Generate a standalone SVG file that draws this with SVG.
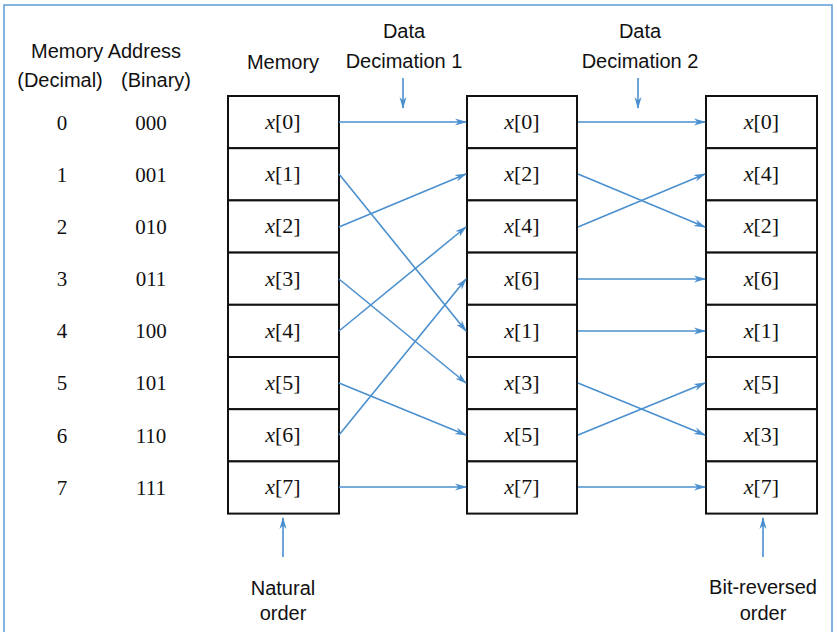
<svg xmlns="http://www.w3.org/2000/svg" width="837" height="632" viewBox="0 0 837 632">
<style>
.lbl{font-family:"Liberation Sans",Arial,sans-serif;font-size:20px;fill:#111;text-anchor:middle}
.num{font-family:"Liberation Serif","Times New Roman",serif;font-size:21px;fill:#111;text-anchor:middle}
.cx{font-family:"Liberation Serif","Times New Roman",serif;font-size:22px;fill:#111;text-anchor:middle}
.cell{fill:#fff;stroke:#111;stroke-width:2}
.conn{stroke:#4a8fce;stroke-width:1.6;fill:none;marker-end:url(#ah)}
</style>
<defs>
<marker id="ah" viewBox="0 0 12 8" refX="11" refY="4" markerWidth="12" markerHeight="8" markerUnits="userSpaceOnUse" orient="auto">
<path d="M0,0.5 L12,4 L0,7.5 L3.5,4 z" fill="#4a8fce"/>
</marker>
</defs>
<rect x="0" y="0" width="837" height="632" fill="#fff"/>
<rect x="4" y="5" width="828" height="640" fill="none" stroke="#5b9bd5" stroke-width="1.5"/>

<g id="headers">
<text class="lbl" x="106" y="58">Memory Address</text>
<text class="lbl" x="60" y="87">(Decimal)</text>
<text class="lbl" x="156" y="87">(Binary)</text>
<text class="lbl" x="283" y="69">Memory</text>
<text class="lbl" x="404" y="38">Data</text>
<text class="lbl" x="404" y="68">Decimation 1</text>
<text class="lbl" x="640" y="38">Data</text>
<text class="lbl" x="640" y="68">Decimation 2</text>
<text class="lbl" x="283" y="595">Natural</text>
<text class="lbl" x="283" y="620">order</text>
<text class="lbl" x="763" y="594">Bit-reversed</text>
<text class="lbl" x="763" y="620">order</text>
</g>

<g id="addresses">
<text class="num" x="62" y="130">0</text><text class="num" x="151" y="130">000</text>
<text class="num" x="62" y="182">1</text><text class="num" x="151" y="182">001</text>
<text class="num" x="62" y="234">2</text><text class="num" x="151" y="234">010</text>
<text class="num" x="62" y="286">3</text><text class="num" x="151" y="286">011</text>
<text class="num" x="62" y="338">4</text><text class="num" x="151" y="338">100</text>
<text class="num" x="62" y="390">5</text><text class="num" x="151" y="390">101</text>
<text class="num" x="62" y="443">6</text><text class="num" x="151" y="443">110</text>
<text class="num" x="62" y="495">7</text><text class="num" x="151" y="495">111</text>
</g>

<g id="memory">
<rect class="cell" x="228" y="96" width="111" height="52.2"/>
<rect class="cell" x="228" y="148.2" width="111" height="52.2"/>
<rect class="cell" x="228" y="200.4" width="111" height="52.2"/>
<rect class="cell" x="228" y="252.6" width="111" height="52.2"/>
<rect class="cell" x="228" y="304.8" width="111" height="52.2"/>
<rect class="cell" x="228" y="357" width="111" height="52.2"/>
<rect class="cell" x="228" y="409.2" width="111" height="52.2"/>
<rect class="cell" x="228" y="461.4" width="111" height="52.2"/>
<text class="cx" x="283" y="129"><tspan font-style="italic">x</tspan>[0]</text>
<text class="cx" x="283" y="181"><tspan font-style="italic">x</tspan>[1]</text>
<text class="cx" x="283" y="233"><tspan font-style="italic">x</tspan>[2]</text>
<text class="cx" x="283" y="286"><tspan font-style="italic">x</tspan>[3]</text>
<text class="cx" x="283" y="338"><tspan font-style="italic">x</tspan>[4]</text>
<text class="cx" x="283" y="390"><tspan font-style="italic">x</tspan>[5]</text>
<text class="cx" x="283" y="442"><tspan font-style="italic">x</tspan>[6]</text>
<text class="cx" x="283" y="494"><tspan font-style="italic">x</tspan>[7]</text>
</g>

<g id="stage1">
<rect class="cell" x="467" y="96" width="110" height="52.2"/>
<rect class="cell" x="467" y="148.2" width="110" height="52.2"/>
<rect class="cell" x="467" y="200.4" width="110" height="52.2"/>
<rect class="cell" x="467" y="252.6" width="110" height="52.2"/>
<rect class="cell" x="467" y="304.8" width="110" height="52.2"/>
<rect class="cell" x="467" y="357" width="110" height="52.2"/>
<rect class="cell" x="467" y="409.2" width="110" height="52.2"/>
<rect class="cell" x="467" y="461.4" width="110" height="52.2"/>
<text class="cx" x="522" y="129"><tspan font-style="italic">x</tspan>[0]</text>
<text class="cx" x="522" y="181"><tspan font-style="italic">x</tspan>[2]</text>
<text class="cx" x="522" y="233"><tspan font-style="italic">x</tspan>[4]</text>
<text class="cx" x="522" y="286"><tspan font-style="italic">x</tspan>[6]</text>
<text class="cx" x="522" y="338"><tspan font-style="italic">x</tspan>[1]</text>
<text class="cx" x="522" y="390"><tspan font-style="italic">x</tspan>[3]</text>
<text class="cx" x="522" y="442"><tspan font-style="italic">x</tspan>[5]</text>
<text class="cx" x="522" y="494"><tspan font-style="italic">x</tspan>[7]</text>
</g>

<g id="stage2">
<rect class="cell" x="706" y="96" width="111" height="52.2"/>
<rect class="cell" x="706" y="148.2" width="111" height="52.2"/>
<rect class="cell" x="706" y="200.4" width="111" height="52.2"/>
<rect class="cell" x="706" y="252.6" width="111" height="52.2"/>
<rect class="cell" x="706" y="304.8" width="111" height="52.2"/>
<rect class="cell" x="706" y="357" width="111" height="52.2"/>
<rect class="cell" x="706" y="409.2" width="111" height="52.2"/>
<rect class="cell" x="706" y="461.4" width="111" height="52.2"/>
<text class="cx" x="761.5" y="129"><tspan font-style="italic">x</tspan>[0]</text>
<text class="cx" x="761.5" y="181"><tspan font-style="italic">x</tspan>[4]</text>
<text class="cx" x="761.5" y="233"><tspan font-style="italic">x</tspan>[2]</text>
<text class="cx" x="761.5" y="286"><tspan font-style="italic">x</tspan>[6]</text>
<text class="cx" x="761.5" y="338"><tspan font-style="italic">x</tspan>[1]</text>
<text class="cx" x="761.5" y="390"><tspan font-style="italic">x</tspan>[5]</text>
<text class="cx" x="761.5" y="442"><tspan font-style="italic">x</tspan>[3]</text>
<text class="cx" x="761.5" y="494"><tspan font-style="italic">x</tspan>[7]</text>
</g>

<g id="connectors">
<line class="conn" x1="339" y1="122" x2="466" y2="122"/>
<line class="conn" x1="339" y1="174" x2="466" y2="331"/>
<line class="conn" x1="339" y1="227" x2="466" y2="174"/>
<line class="conn" x1="339" y1="279" x2="466" y2="383"/>
<line class="conn" x1="339" y1="331" x2="466" y2="227"/>
<line class="conn" x1="339" y1="383" x2="466" y2="435"/>
<line class="conn" x1="339" y1="435" x2="466" y2="279"/>
<line class="conn" x1="339" y1="487" x2="466" y2="487"/>
<line class="conn" x1="578" y1="122" x2="705" y2="122"/>
<line class="conn" x1="578" y1="174" x2="705" y2="227"/>
<line class="conn" x1="578" y1="227" x2="705" y2="174"/>
<line class="conn" x1="578" y1="279" x2="705" y2="279"/>
<line class="conn" x1="578" y1="331" x2="705" y2="331"/>
<line class="conn" x1="578" y1="383" x2="705" y2="435"/>
<line class="conn" x1="578" y1="435" x2="705" y2="383"/>
<line class="conn" x1="578" y1="487" x2="705" y2="487"/>
<line class="conn" x1="403" y1="78" x2="403" y2="108"/>
<line class="conn" x1="638" y1="78" x2="638" y2="108"/>
<line class="conn" x1="283" y1="557" x2="283" y2="518"/>
<line class="conn" x1="763" y1="557" x2="763" y2="518"/>
</g>
</svg>
